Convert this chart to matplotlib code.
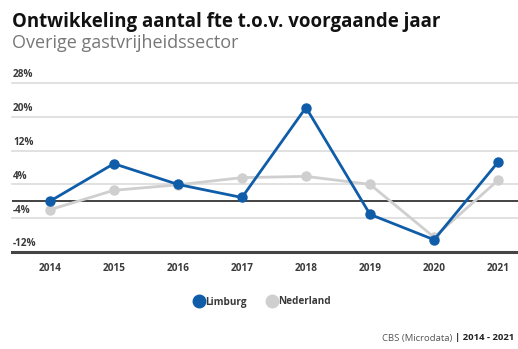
"""Ontwikkeling aantal fte t.o.v. voorgaande jaar, overige gastvrijheidssector."""

import matplotlib.pyplot as plt
from matplotlib.lines import Line2D
from matplotlib.transforms import blended_transform_factory

plt.rcParams["font.family"] = ["Open Sans", "DejaVu Sans"]

YEARS = [2014, 2015, 2016, 2017, 2018, 2019, 2020, 2021]
LIMBURG = [0.0, 8.9, 4.0, 0.9, 22.2, -3.1, -9.1, 9.3]
NEDERLAND = [-2.0, 2.6, 3.9, 5.6, 5.9, 4.0, -8.5, 5.0]
Y_TICKS = [28, 20, 12, 4, -4, -12]

BLUE = "#0f5ca8"
GREY = "#cfcfcf"
TEXT = "#3a3a3a"

fig = plt.figure(figsize=(5.18, 3.49), dpi=100)
ax = fig.add_axes([12 / 518, (349 - 252) / 349, 1 - 12 / 518, (252 - 83) / 349])
ax.set_xlim(2013.41, 2021.31)
ax.set_ylim(-12, 28)
ax.axis("off")

for value in Y_TICKS:
    ax.axhline(value, color="#dcdcdc", linewidth=1.2, zorder=1, clip_on=False)
ax.axhline(0, color="#222222", linewidth=1.2, zorder=2)
ax.axhline(-12, color="#444444", linewidth=2.2, zorder=2, clip_on=False)

label_tf = blended_transform_factory(ax.transAxes, ax.transData)
for value in Y_TICKS:
    ax.text(0.002, value + 0.6, f"{value}%", transform=label_tf, ha="left",
            va="bottom", fontsize=7.2, fontweight="bold", color=TEXT)

ax.plot(YEARS, NEDERLAND, color=GREY, linewidth=2.0, marker="o",
        markersize=6.5, zorder=3, clip_on=False)
ax.plot(YEARS, LIMBURG, color=BLUE, linewidth=2.0, marker="o",
        markersize=6.5, zorder=4, clip_on=False)

for year in YEARS:
    ax.text(year, -15.8, str(year), ha="center", va="center", fontsize=7.2,
            fontweight="bold", color=TEXT)

fig.text(12 / 518, 1 - 22 / 349, "Ontwikkeling aantal fte t.o.v. voorgaande jaar",
         ha="left", va="center", fontsize=13.4, fontweight="bold", color="#111111")
fig.text(12 / 518, 1 - 43 / 349, "Overige gastvrijheidssector", ha="left",
         va="center", fontsize=13, color="#777777")

handles = [
    Line2D([], [], linestyle="none", marker="o", markersize=9, color=BLUE),
    Line2D([], [], linestyle="none", marker="o", markersize=9, color=GREY),
]
fig.legend(handles, ["Limburg", "Nederland"], loc="center",
           bbox_to_anchor=(262 / 518, 1 - 302 / 349), ncol=2, frameon=False,
           handletextpad=0.0, columnspacing=2.0, handlelength=1.2,
           prop={"size": 7.2, "weight": "bold"}, labelcolor=TEXT)

fig.text(514 / 518, 1 - 338 / 349, "CBS (Microdata) ", ha="right", va="center",
         fontsize=6.8, color="#555555")
src = fig.text(514 / 518, 1 - 338 / 349, "| 2014 - 2021", ha="right", va="center",
               fontsize=6.8, fontweight="bold", color="#222222")
fig.canvas.draw()
bbox = src.get_window_extent()
fig.texts[-2].set_x(bbox.x0 / fig.bbox.width)

fig.savefig("out.png", dpi=100)
